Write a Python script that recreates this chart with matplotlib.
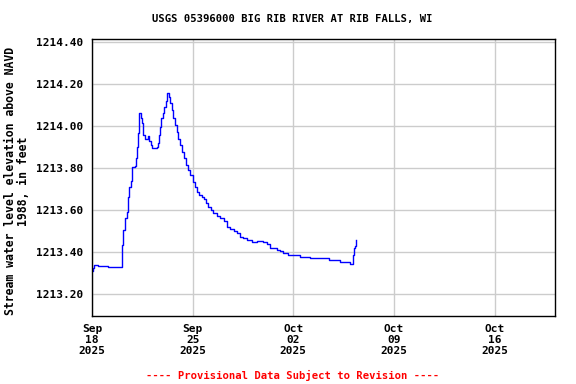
import numpy as np
import matplotlib
matplotlib.use('Agg')
import matplotlib.pyplot as plt
import matplotlib.dates as mdates

start = np.datetime64('2025-09-18T00:00')

# days since Sep 18 00:00, and gage height elevation (ft)
days = [0.0, 0.05, 0.15, 0.4, 0.9, 1.1, 1.5, 1.8, 2.06, 2.13, 2.18, 2.30, 2.41,
        2.48, 2.60, 2.69, 2.76, 2.99, 3.06, 3.15, 3.22, 3.29, 3.39, 3.48, 3.57,
        3.69, 3.87, 3.99, 4.11, 4.20, 4.50, 4.57, 4.66, 4.73, 4.80, 4.92, 5.01,
        5.13, 5.24, 5.36, 5.43, 5.54, 5.66, 5.78, 5.89, 6.01, 6.12, 6.24, 6.40,
        6.54, 6.70, 6.82, 7.01, 7.17, 7.28, 7.47, 7.63, 7.79, 7.93, 8.10, 8.26,
        8.44, 8.68, 8.91, 9.19, 9.37, 9.60, 9.88, 10.07, 10.30, 10.53, 10.76,
        11.11, 11.51, 11.92, 12.15, 12.39, 12.85, 13.08, 13.31, 13.66, 14.47,
        15.17, 16.45, 17.26, 17.72, 17.95, 18.07, 18.14, 18.19, 18.28, 18.35]
level = [1213.31, 1213.325, 1213.338, 1213.335, 1213.335, 1213.327, 1213.327,
         1213.33, 1213.433, 1213.46, 1213.505, 1213.56, 1213.59, 1213.66, 1213.71,
         1213.74, 1213.806, 1213.81, 1213.846, 1213.90, 1213.965, 1214.06,
         1214.04, 1214.013, 1213.957, 1213.94, 1213.95, 1213.93, 1213.91, 1213.894,
         1213.90, 1213.92, 1213.957, 1213.997, 1214.04, 1214.06, 1214.09, 1214.12,
         1214.156, 1214.14, 1214.11, 1214.076, 1214.04, 1214.005, 1213.97,
         1213.94, 1213.91, 1213.877, 1213.846, 1213.814, 1213.79, 1213.767,
         1213.735, 1213.71, 1213.686, 1213.67, 1213.66, 1213.65, 1213.632,
         1213.616, 1213.60, 1213.585, 1213.57, 1213.56, 1213.545, 1213.52,
         1213.51, 1213.50, 1213.49, 1213.473, 1213.465, 1213.457, 1213.448,
         1213.454, 1213.448, 1213.44, 1213.42, 1213.41, 1213.405, 1213.394,
         1213.386, 1213.378, 1213.37, 1213.362, 1213.353, 1213.35, 1213.343,
         1213.343, 1213.386, 1213.417, 1213.43, 1213.457]

xtick_dates = ['2025-09-18', '2025-09-25', '2025-10-02', '2025-10-09', '2025-10-16']
yticks = [1213.20, 1213.40, 1213.60, 1213.80, 1214.00, 1214.20, 1214.40]


def make_plot():
    mono = 'DejaVu Sans Mono'
    t = start + (np.array(days) * 24 * 60).astype('timedelta64[m]')
    t = t.astype('datetime64[s]').astype(object)

    fig = plt.figure(figsize=(5.76, 3.84), dpi=100)
    ax = fig.add_axes([0.1597, 0.1771, 0.8038, 0.7213])

    ax.plot(t, level, '-', color='#0000ff', lw=1.0, drawstyle='steps-post')

    x0 = start.astype('datetime64[s]').astype(object)
    x1 = (start + np.timedelta64(int(32.2 * 24 * 60), 'm')).astype('datetime64[s]').astype(object)
    ax.set_xlim(x0, x1)
    ax.set_ylim(1213.095, 1214.414)

    ax.set_xticks([np.datetime64(d).astype('datetime64[s]').astype(object) for d in xtick_dates])
    ax.xaxis.set_major_formatter(mdates.DateFormatter('%b\n%d\n%Y'))
    ax.set_yticks(yticks)
    ax.set_yticklabels(['%.2f' % v for v in yticks])
    ax.tick_params(length=0, pad=6, labelsize=8)
    for lab in ax.get_xticklabels() + ax.get_yticklabels():
        lab.set_family(mono)
        lab.set_fontweight('bold')
    for lab in ax.get_xticklabels():
        lab.set_linespacing(1.1)

    ax.grid(True, color='#cccccc', lw=1.0)
    ax.set_axisbelow(True)
    for s in ax.spines.values():
        s.set_linewidth(1.0)
        s.set_color('black')

    fig.text(0.508, 0.951, 'USGS 05396000 BIG RIB RIVER AT RIB FALLS, WI',
             family=mono, fontweight='bold', fontsize=7.6, ha='center', va='center')
    ax.set_ylabel('Stream water level elevation above NAVD\n1988, in feet',
                  family=mono, fontweight='bold', fontsize=8.3, linespacing=1.0)
    ax.yaxis.set_label_coords(-0.134, 0.487)
    fig.text(0.508, 0.023, '---- Provisional Data Subject to Revision ----',
             color='red', family=mono, fontweight='bold', fontsize=7.6,
             ha='center', va='center')

    fig.savefig('out.png', dpi=100)
    plt.close(fig)


if __name__ == '__main__':
    make_plot()
